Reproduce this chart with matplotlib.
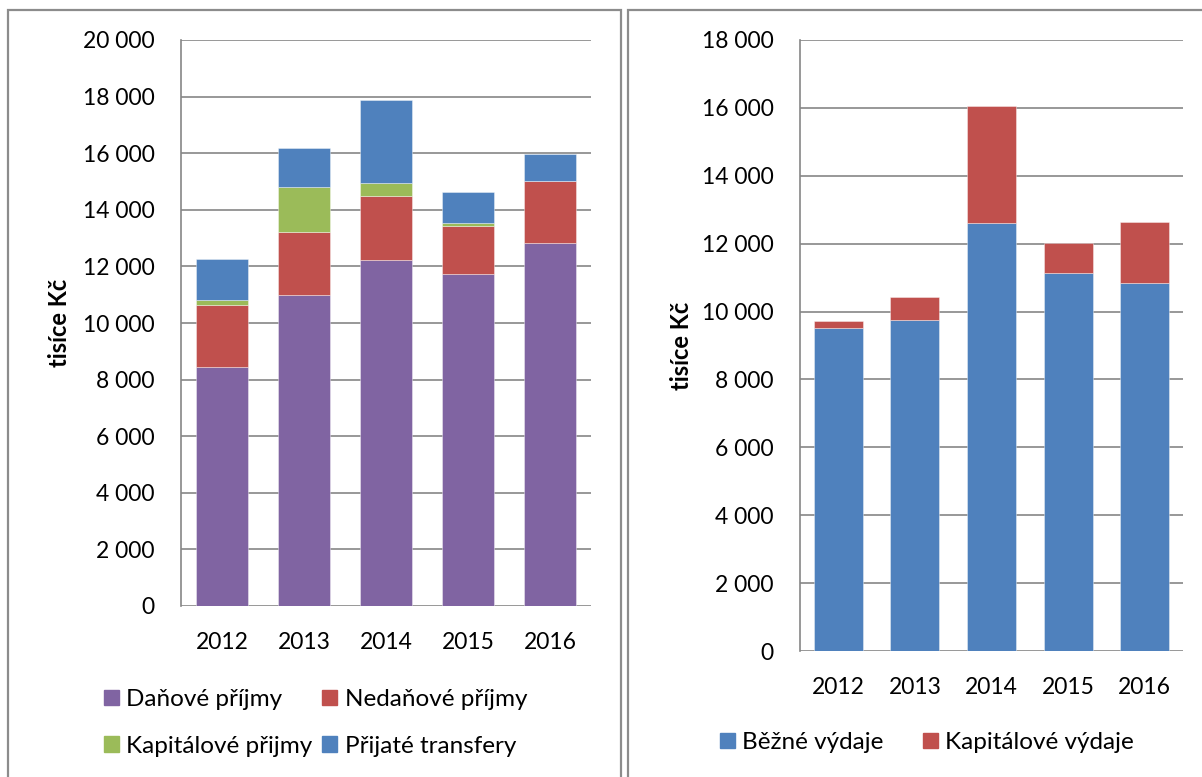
import matplotlib.pyplot as plt
import numpy as np
from matplotlib.patches import Rectangle, Patch
from matplotlib.ticker import FuncFormatter, MultipleLocator

plt.rcParams['font.family'] = ['Lato', 'DejaVu Sans']

years = ['2012', '2013', '2014', '2015', '2016']

# prijmy (tisice Kc)
danove = [8460, 10980, 12220, 11740, 12820]
nedanove = [2190, 2250, 2250, 1700, 2190]
kapitalove_p = [165, 1570, 490, 85, 0]
transfery = [1460, 1380, 2920, 1095, 965]

# vydaje (tisice Kc)
bezne = [9510, 9750, 12600, 11130, 10840]
kapitalove_v = [215, 680, 3450, 880, 1800]

c_purple = '#8064A2'
c_red = '#C0504D'
c_green = '#9BBB59'
c_blue = '#4F81BD'
grid_c = '#868686'
W, H = 1202, 777


def thousands(v, pos):
    return f"{v:,.0f}".replace(',', ' ')


def style_axes(ax, top):
    ax.set_xlim(-0.5, 4.5)
    ax.set_ylim(0, top)
    ax.yaxis.set_major_locator(MultipleLocator(2000))
    ax.yaxis.set_major_formatter(FuncFormatter(thousands))
    ax.grid(axis='y', color=grid_c, linewidth=1.2)
    ax.set_axisbelow(True)
    for s in ['top', 'right', 'bottom']:
        ax.spines[s].set_visible(False)
    ax.spines['left'].set_color(grid_c)
    ax.spines['left'].set_linewidth(1.2)
    ax.tick_params(length=0, labelsize=16.5, pad=19)
    ax.set_xticks(range(5))
    ax.set_xticklabels(years)
    ax.set_ylabel('tisíce Kč', fontsize=17, fontweight='bold')


fig = plt.figure(figsize=(W / 100, H / 100), dpi=100)

# panel frames
fig.patches.append(Rectangle((8 / W, -0.1), (621 - 8) / W, 1.1 - 10 / H, transform=fig.transFigure,
                             fill=False, edgecolor='#8c8c8c', linewidth=1.6))
fig.patches.append(Rectangle((628 / W, -0.1), 0.6, 1.1 - 10 / H, transform=fig.transFigure,
                             fill=False, edgecolor='#8c8c8c', linewidth=1.6))

ax1 = fig.add_axes([181 / W, 1 - 606 / H, 410 / W, 566 / H])
x = np.arange(len(years))
bw = 0.64
ec = (1, 1, 1, 0.45)
ax1.bar(x, danove, bw, color=c_purple, edgecolor=ec, linewidth=0.6)
bottom = np.array(danove)
ax1.bar(x, nedanove, bw, bottom=bottom, color=c_red, edgecolor=ec, linewidth=0.6)
bottom = bottom + np.array(nedanove)
ax1.bar(x, kapitalove_p, bw, bottom=bottom, color=c_green, edgecolor=ec, linewidth=0.6)
bottom = bottom + np.array(kapitalove_p)
ax1.bar(x, transfery, bw, bottom=bottom, color=c_blue, edgecolor=ec, linewidth=0.6)
style_axes(ax1, 20000)
ax1.yaxis.set_label_coords(-0.268, 0.5)

handles = [Patch(color=c_purple), Patch(color=c_green), Patch(color=c_red), Patch(color=c_blue)]
labels = ['Daňové příjmy', 'Kapitálové přijmy', 'Nedaňové příjmy', 'Přijaté transfery']
fig.legend(handles, labels, ncol=2, loc='upper left', bbox_to_anchor=(104 / W, 1 - 689 / H),
           frameon=False, fontsize=17.5, handlelength=0.62, handleheight=0.62,
           handletextpad=0.3, columnspacing=0.4, labelspacing=1.05, borderpad=0, borderaxespad=0)

ax2 = fig.add_axes([800 / W, 1 - 651 / H, 383 / W, 611 / H])
ax2.bar(x, bezne, bw, color=c_blue, edgecolor=ec, linewidth=0.6)
ax2.bar(x, kapitalove_v, bw, bottom=bezne, color=c_red, edgecolor=ec, linewidth=0.6)
style_axes(ax2, 18000)
ax2.yaxis.set_label_coords(-0.279, 0.5)

fig.legend([Patch(color=c_blue), Patch(color=c_red)], ['Běžné výdaje', 'Kapitálové výdaje'],
           ncol=2, loc='upper left', bbox_to_anchor=(720 / W, 1 - 732 / H),
           frameon=False, fontsize=17.5, handlelength=0.62, handleheight=0.62,
           handletextpad=0.3, columnspacing=1.6, borderpad=0, borderaxespad=0)

fig.savefig('out.png', dpi=100)
